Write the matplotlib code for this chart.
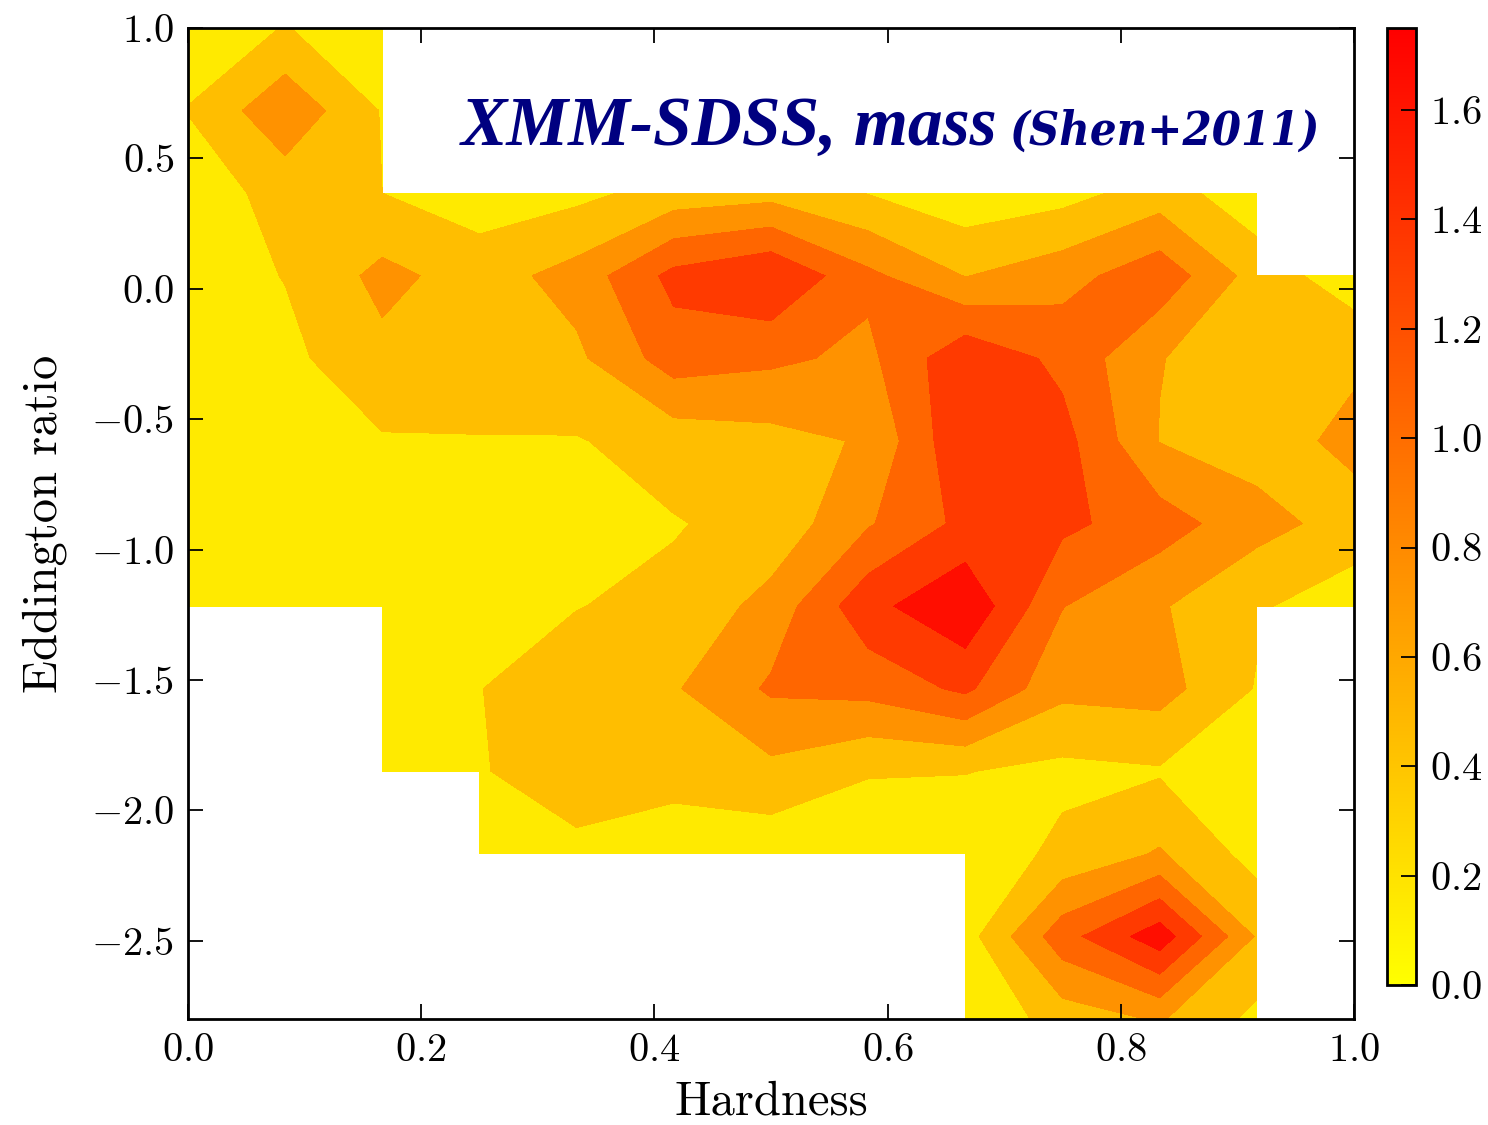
import numpy as np
import matplotlib
matplotlib.use("Agg")
import matplotlib.pyplot as plt
from matplotlib.colors import Normalize
from matplotlib.cm import ScalarMappable

# classic-looking Computer Modern text
plt.rcParams["font.family"] = "serif"
plt.rcParams["font.serif"] = ["cmr10"]
plt.rcParams["mathtext.fontset"] = "cm"
plt.rcParams["axes.formatter.use_mathtext"] = True

nan = np.nan

# grid of the density map (13 x 13 nodes)
hardness = np.linspace(0.0, 1.0, 13)
edd_ratio = np.linspace(-2.8, 1.0, 13)

# density values, one list per Eddington-ratio row (bottom -> top); nan = no data
row_00 = [nan, nan, nan, nan, nan, nan, nan, nan, 0.02, 0.44, 0.63, 0.22, nan]
row_01 = [nan, nan, nan, nan, nan, nan, nan, nan, 0.17, 1.08, 1.68, 0.57, nan]
row_02 = [nan, nan, nan, 0.10, 0.23, 0.06, 0.10, 0.20, 0.07, 0.38, 0.63, 0.18, nan]
row_03 = [nan, nan, 0.15, 0.28, 0.45, 0.45, 0.52, 0.31, 0.31, 0.22, 0.27, 0.15, nan]
row_04 = [nan, nan, 0.15, 0.295, 0.42, 0.57, 0.945, 1.00, 1.26, 0.68, 0.72, 0.28, nan]
row_05 = [0.10, 0.12, 0.15, 0.20, 0.293, 0.36, 0.71, 1.41, 1.75, 0.91, 0.63, 0.337, 0.122]
row_06 = [0.10, 0.12, 0.12, 0.15, 0.22, 0.283, 0.39, 0.87, 1.28, 1.266, 1.045, 0.708, 0.478]
row_07 = [0.12, 0.20, 0.273, 0.287, 0.282, 0.425, 0.50, 0.63, 1.47, 1.307, 0.59, 0.468, 0.678]
row_08 = [0.15, 0.224, 0.516, 0.45, 0.54, 1.05, 0.96, 0.83, 1.44, 1.12, 0.61, 0.45, 0.55]
row_09 = [0.15, 0.31, 0.687, 0.464, 0.715, 1.29, 1.49, 0.97, 0.59, 0.78, 1.10, 0.47, 0.12]
row_10 = [0.13, 0.41, 0.30, 0.14, 0.22, 0.42, 0.49, 0.29, 0.09, 0.19, 0.44, 0.11, nan]
row_11 = [0.31, 0.83, 0.28, nan, nan, nan, nan, nan, nan, nan, nan, nan, nan]
row_12 = [0.15, 0.31, 0.15, nan, nan, nan, nan, nan, nan, nan, nan, nan, nan]

levels = [0.0, 0.3, 0.6, 0.9, 1.2, 1.5, 1.8]
cbar_ticks = [0.0, 0.2, 0.4, 0.6, 0.8, 1.0, 1.2, 1.4, 1.6]
x_ticks = [0.0, 0.2, 0.4, 0.6, 0.8, 1.0]
y_ticks = [-2.5, -2.0, -1.5, -1.0, -0.5, 0.0, 0.5, 1.0]

Z = np.ma.masked_invalid(np.array([row_00, row_01, row_02, row_03, row_04, row_05, row_06,
                                   row_07, row_08, row_09, row_10, row_11, row_12]))
norm = Normalize(vmin=0.0, vmax=1.75)

fig = plt.figure(figsize=(14.88, 11.25), dpi=100)
ax = fig.add_axes([0.1263, 0.0942, 0.7836, 0.8809])
cax = fig.add_axes([0.9321, 0.1244, 0.0195, 0.8507])

ax.contourf(hardness, edd_ratio, Z, levels=levels, cmap="autumn_r", norm=norm,
            corner_mask=False)

ax.set_xlim(0.0, 1.0)
ax.set_ylim(-2.8, 1.0)
ax.set_xticks(x_ticks)
ax.set_yticks(y_ticks)
ax.tick_params(direction="in", length=11, width=1.3, labelsize=29, pad=10,
               top=True, right=True)
for sp in ax.spines.values():
    sp.set_linewidth(2.0)

ax.set_xlabel("Hardness", fontsize=35, labelpad=8)
ax.set_ylabel("Eddington ratio", fontsize=35, labelpad=17)

# title inside the plot
ax.text(0.971, 0.882, "(Shen+2011)", transform=ax.transAxes, ha="right", va="baseline",
        fontsize=33.7, fontweight="bold", fontstyle="italic", fontstretch="condensed",
        color="#000080", family=["DejaVu Serif"])
ax.text(0.694, 0.882, "XMM-SDSS, mass", transform=ax.transAxes, ha="right", va="baseline",
        fontsize=50, fontweight="bold", fontstyle="italic", color="#000080",
        family=["Liberation Serif"])

sm = ScalarMappable(norm=norm, cmap="autumn_r")
cb = fig.colorbar(sm, cax=cax, ticks=cbar_ticks)
cb.ax.tick_params(direction="in", length=11, width=1.3, labelsize=29, pad=10)
cb.outline.set_linewidth(2.0)

fig.savefig("out.png", dpi=100)
